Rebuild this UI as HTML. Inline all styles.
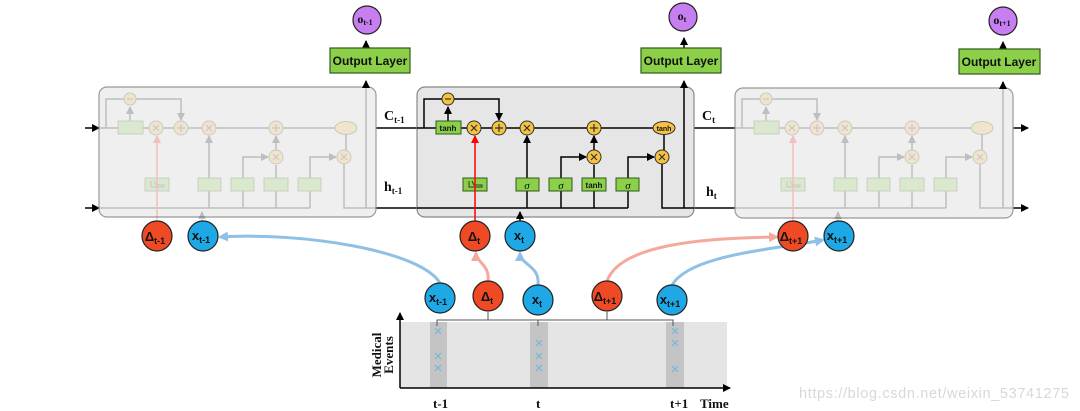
<!DOCTYPE html>
<html><head><meta charset="utf-8"><style>
html,body{margin:0;padding:0;background:#fff;width:1080px;height:411px;overflow:hidden}
svg{display:block}
.lbl{font-family:"Liberation Sans",sans-serif;font-weight:bold}
.ser{font-family:"Liberation Serif",serif;font-weight:bold}
</style></head><body>
<svg width="1080" height="411" viewBox="0 0 1080 411" xmlns="http://www.w3.org/2000/svg">
<defs>
<marker id="ab" markerWidth="8" markerHeight="8" refX="7" refY="4" orient="auto" markerUnits="userSpaceOnUse"><path d="M0,0 L8,4 L0,8 Z" fill="#000"/></marker>
<marker id="ar" markerWidth="8" markerHeight="8" refX="7" refY="4" orient="auto" markerUnits="userSpaceOnUse"><path d="M0,0 L8,4 L0,8 Z" fill="#f00"/></marker>
<marker id="abl" markerWidth="10" markerHeight="10" refX="8" refY="5" orient="auto" markerUnits="userSpaceOnUse"><path d="M0,0 L10,5 L0,10 Z" fill="#8fc0e6"/></marker>
<marker id="apk" markerWidth="10" markerHeight="10" refX="8" refY="5" orient="auto" markerUnits="userSpaceOnUse"><path d="M0,0 L10,5 L0,10 Z" fill="#f5a89c"/></marker>
<g id="inner" stroke="#000" stroke-width="1.5" fill="none">
  <path d="M424,128 V99 H499 V120" marker-end="url(#ab)"/>
  <path d="M448,121 V107" marker-end="url(#ab)"/>
  <path d="M417,128 H653"/>
  <path d="M527,208 V191 M527,178 V136" marker-end="url(#ab)"/>
  <path d="M561,208 V191 M561,178 V157 H586" marker-end="url(#ab)"/>
  <path d="M594,208 V191 M594,178 V165"/>
  <path d="M594,150 V136" marker-end="url(#ab)"/>
  <path d="M628,208 V191 M628,178 V157 H654" marker-end="url(#ab)"/>
  <path d="M664,134 V150"/>
  <path d="M662,164 V208 H694"/>
  <path d="M417,208 H628"/>
  <g fill="#f5c242" stroke="#333" stroke-width="1">
    <circle cx="448" cy="99" r="6"/>
    <circle cx="474" cy="128" r="7"/>
    <circle cx="499" cy="128" r="7"/>
    <circle cx="527" cy="128" r="7"/>
    <circle cx="594" cy="128" r="7"/>
    <circle cx="594" cy="157" r="7"/>
    <circle cx="662" cy="157" r="7"/>
    <ellipse cx="664" cy="128" rx="11" ry="6.5"/>
  </g>
  <g stroke="#333" stroke-width="1.2">
    <path d="M445,99 H451"/>
    <path d="M471,125 L477,131 M477,125 L471,131"/>
    <path d="M495,128 H503 M499,124 V132"/>
    <path d="M524,125 L530,131 M530,125 L524,131"/>
    <path d="M590,128 H598 M594,124 V132"/>
    <path d="M591,154 L597,160 M597,154 L591,160"/>
    <path d="M659,154 L665,160 M665,154 L659,160"/>
  </g>
  <g fill="#8cd04a" stroke="#2f5a1a" stroke-width="1">
    <rect x="436" y="121" width="25" height="13"/>
    <rect x="463" y="178" width="24" height="13"/>
    <rect x="516" y="178" width="23" height="13"/>
    <rect x="549" y="178" width="23" height="13"/>
    <rect x="582" y="178" width="24" height="13"/>
    <rect x="616" y="178" width="23" height="13"/>
  </g>
  <path d="M469,181 V187 H482 V185 H474 L472,181" stroke="#333" stroke-width="1"/>
  <path d="M475,236 V136" stroke="#f00" stroke-width="1.5" marker-end="url(#ar)"/>
  <path d="M520,222 V212" marker-end="url(#ab)"/>
</g>
</defs>

<g stroke="#000" stroke-width="1.5" fill="none">
  <path d="M85,128 H99" marker-end="url(#ab)"/>
  <path d="M85,208 H99" marker-end="url(#ab)"/>
  <path d="M376,128 H417"/>
  <path d="M376,208 H417"/>
  <path d="M694,128 H735"/>
  <path d="M694,208 H735"/>
  <path d="M1013,128 H1028" marker-end="url(#ab)"/>
  <path d="M1013,208 H1028" marker-end="url(#ab)"/>
</g>

<rect x="99" y="87" width="277" height="130" rx="8" fill="#efefef" stroke="#999" stroke-width="1.2"/>
<rect x="417" y="87" width="277" height="130" rx="8" fill="#e6e6e6" stroke="#888" stroke-width="1.2"/>
<rect x="735" y="88" width="278" height="130" rx="8" fill="#efefef" stroke="#999" stroke-width="1.2"/>

<g opacity="0.2"><use href="#inner" transform="translate(-318,0)"/></g>
<g opacity="0.2"><use href="#inner" transform="translate(318,0)"/></g>
<use href="#inner"/>

<g class="lbl" font-size="8" fill="#111" text-anchor="middle">
  <text x="448" y="131">tanh</text>
  <text x="594" y="188">tanh</text>
  <text x="664" y="131" font-size="7">tanh</text>
</g>
<g font-family="Liberation Serif,serif" font-style="italic" font-size="11" fill="#111" text-anchor="middle">
  <text x="527" y="189">σ</text><text x="561" y="189">σ</text><text x="628" y="189">σ</text>
</g>

<g stroke="#000" stroke-width="1.5">
  <path d="M366,208 V87" stroke="#bbb"/><path d="M366,88 V81" marker-end="url(#ab)"/><path d="M366,48 V41" marker-end="url(#ab)"/>
  <path d="M684,208 V81" marker-end="url(#ab)"/><path d="M684,48 V38" marker-end="url(#ab)"/>
  <path d="M1003,208 V88" stroke="#bbb"/><path d="M1003,89 V82" marker-end="url(#ab)"/><path d="M1003,49 V42" marker-end="url(#ab)"/>
</g>
<g fill="#8cd04a" stroke="#2f5a1a" stroke-width="1.2">
  <rect x="330" y="48" width="80" height="25"/>
  <rect x="641" y="48" width="80" height="25"/>
  <rect x="959" y="49" width="81" height="25"/>
</g>
<g class="lbl" font-size="12" fill="#111" text-anchor="middle">
  <text x="370" y="65">Output Layer</text>
  <text x="681" y="65">Output Layer</text>
  <text x="999" y="66">Output Layer</text>
</g>
<g fill="#c77ef0" stroke="#222" stroke-width="1.2">
  <circle cx="367" cy="20" r="14"/><circle cx="683" cy="17" r="14"/><circle cx="1003" cy="21" r="14"/>
</g>
<g class="ser" font-size="12" fill="#111" text-anchor="middle">
  <text x="365" y="23">o<tspan font-size="8" dy="2">t-1</tspan></text>
  <text x="682" y="20">o<tspan font-size="8" dy="2">t</tspan></text>
  <text x="1002" y="24">o<tspan font-size="8" dy="2">t+1</tspan></text>
</g>

<g class="ser" font-size="14" fill="#111">
  <text x="384" y="120">C<tspan font-size="9" dy="3">t-1</tspan></text>
  <text x="384" y="191">h<tspan font-size="9" dy="3">t-1</tspan></text>
  <text x="702" y="120">C<tspan font-size="9" dy="3">t</tspan></text>
  <text x="706" y="196">h<tspan font-size="9" dy="3">t</tspan></text>
</g>

<g fill="none" stroke-width="3">
  <path d="M440,283 C420,250 300,232 220,237" stroke="#8fc0e6" marker-end="url(#abl)"/>
  <path d="M488,281 C490,265 476,262 476,253" stroke="#f5a89c" marker-end="url(#apk)"/>
  <path d="M538,285 C540,265 520,265 520,253" stroke="#8fc0e6" marker-end="url(#abl)"/>
  <path d="M607,281 C620,245 700,238 777,237" stroke="#f5a89c" marker-end="url(#apk)"/>
  <path d="M672,285 C690,255 770,250 823,240" stroke="#8fc0e6" marker-end="url(#abl)"/>
</g>

<g stroke="#222" stroke-width="1.2">
  <circle cx="157" cy="236" r="15" fill="#f04a25"/>
  <circle cx="203" cy="236" r="15" fill="#1ea8e6"/>
  <circle cx="475" cy="236" r="15" fill="#f04a25"/>
  <circle cx="520" cy="236" r="15" fill="#1ea8e6"/>
  <circle cx="793" cy="236" r="15" fill="#f04a25"/>
  <circle cx="839" cy="236" r="15" fill="#1ea8e6"/>
  <circle cx="440" cy="298" r="15" fill="#1ea8e6"/>
  <circle cx="488" cy="296" r="15" fill="#f04a25"/>
  <circle cx="538" cy="300" r="15" fill="#1ea8e6"/>
  <circle cx="607" cy="296" r="15" fill="#f04a25"/>
  <circle cx="672" cy="300" r="15" fill="#1ea8e6"/>
</g>
<g class="lbl" font-size="13" fill="#111" text-anchor="middle">
  <text x="155" y="241">Δ<tspan font-size="9" dy="3">t-1</tspan></text>
  <text x="201" y="240">x<tspan font-size="9" dy="3">t-1</tspan></text>
  <text x="474" y="241">Δ<tspan font-size="9" dy="3">t</tspan></text>
  <text x="519" y="240">x<tspan font-size="9" dy="3">t</tspan></text>
  <text x="791" y="241">Δ<tspan font-size="9" dy="3">t+1</tspan></text>
  <text x="837" y="240">x<tspan font-size="9" dy="3">t+1</tspan></text>
  <text x="438" y="302">x<tspan font-size="9" dy="3">t-1</tspan></text>
  <text x="487" y="301">Δ<tspan font-size="9" dy="3">t</tspan></text>
  <text x="537" y="304">x<tspan font-size="9" dy="3">t</tspan></text>
  <text x="605" y="301">Δ<tspan font-size="9" dy="3">t+1</tspan></text>
  <text x="670" y="304">x<tspan font-size="9" dy="3">t+1</tspan></text>
</g>

<rect x="400" y="322" width="327" height="66" fill="#e5e5e5"/>
<rect x="430" y="322" width="17" height="66" fill="#c4c4c4"/>
<rect x="530" y="322" width="18" height="66" fill="#c4c4c4"/>
<rect x="666" y="322" width="18" height="66" fill="#c4c4c4"/>
<g stroke="#555" stroke-width="1" fill="none">
  <path d="M437,326 V320 H673 V326 M488,320 V312 M538,320 V326 M607,320 V312"/>
</g>
<g stroke="#000" stroke-width="1.5">
  <path d="M400,388 V313" marker-end="url(#ab)"/>
  <path d="M400,388 H730" marker-end="url(#ab)"/>
</g>
<g stroke="#6bb6df" stroke-width="1">
  <path d="M435,328 l6,6 m0,-6 l-6,6 M435,353 l6,6 m0,-6 l-6,6 M435,365 l6,6 m0,-6 l-6,6"/>
  <path d="M536,340 l6,6 m0,-6 l-6,6 M536,353 l6,6 m0,-6 l-6,6 M536,365 l6,6 m0,-6 l-6,6"/>
  <path d="M672,328 l6,6 m0,-6 l-6,6 M672,340 l6,6 m0,-6 l-6,6 M672,366 l6,6 m0,-6 l-6,6"/>
</g>
<g class="ser" font-size="13" fill="#111">
  <text x="433" y="408">t-1</text>
  <text x="536" y="408">t</text>
  <text x="670" y="408">t+1</text>
  <text x="700" y="408">Time</text>
  <text transform="translate(381,355) rotate(-90)" text-anchor="middle" font-size="13">Medical</text>
  <text transform="translate(393,355) rotate(-90)" text-anchor="middle" font-size="13">Events</text>
</g>
<text x="799" y="398" font-family="Liberation Sans,sans-serif" font-size="14.5" fill="#d8d8d8" textLength="270">https://blog.csdn.net/weixin_53741275</text>
</svg>
</body></html>
